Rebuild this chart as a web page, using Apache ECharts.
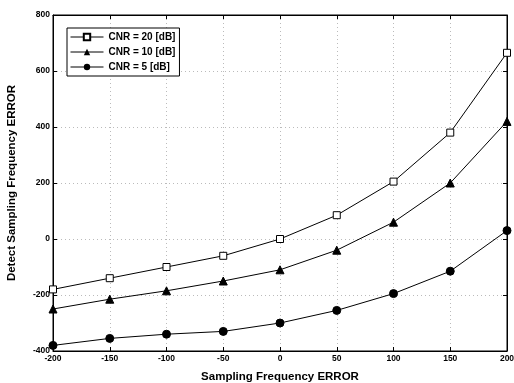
<!DOCTYPE html>
<html><head><meta charset="utf-8">
<script src="https://cdn.jsdelivr.net/npm/echarts@6/dist/echarts.min.js"></script>
<style>html,body{margin:0;padding:0;background:#fff}#c{width:514px;height:383px}</style>
</head><body><div id="c"></div>
<script>
const xCategories = [-200, -150, -100, -50, 0, 50, 100, 150, 200];
const cnr20 = [-180, -140, -100, -60, 0, 85, 205, 380, 665];
const cnr10 = [-250, -215, -185, -150, -110, -40, 60, 200, 420];
const cnr5 = [-380, -355, -340, -330, -300, -255, -195, -115, 30];
const seriesNames = ['CNR = 20 [dB]', 'CNR = 10 [dB]', 'CNR = 5 [dB]'];

const font = 'Liberation Sans, Arial, sans-serif';
const pair = (arr) => xCategories.map((x, i) => [x, arr[i]]);
const chart = echarts.init(document.getElementById('c'), null, {renderer: 'canvas'});
const lineOpt = {show: true, onZero: false, lineStyle: {color: '#000', width: 1}};
const tickOpt = {show: true, inside: true, length: 4, lineStyle: {color: '#000'}};
const labelOpt = {color: '#000', fontFamily: font, fontSize: 8.5, fontWeight: 'bold'};
const splitOpt = {show: true, lineStyle: {color: '#bbb', type: [1, 3], width: 1}};
const titleStyle = {fontFamily: font, fontSize: 11.5, fontWeight: 'bold', color: '#000'};
chart.setOption({
  animation: false,
  backgroundColor: '#fff',
  grid: {left: 53, right: 7, top: 15, bottom: 32, show: true, borderColor: '#000', borderWidth: 1,
         containLabel: false, outerBoundsMode: 'none'},
  legend: {
    orient: 'vertical', left: 67, top: 28,
    backgroundColor: '#fff', borderColor: '#000', borderWidth: 1,
    padding: [4, 4, 4, 3], itemGap: 5, itemWidth: 33, itemHeight: 8,
    lineStyle: {width: 1},
    textStyle: {fontFamily: font, fontSize: 10, fontWeight: 'bold', color: '#000'},
    data: seriesNames
  },
  xAxis: [{
    type: 'value', min: -200, max: 200, interval: 50,
    axisLine: lineOpt, axisTick: tickOpt, splitLine: splitOpt,
    name: 'Sampling Frequency ERROR', nameLocation: 'middle', nameGap: 20,
    nameTextStyle: titleStyle,
    axisLabel: {...labelOpt, margin: 3}
  }, {
    type: 'value', min: -200, max: 200, interval: 50, position: 'top',
    axisLine: lineOpt, axisTick: tickOpt,
    axisLabel: {show: false}, splitLine: {show: false}
  }],
  yAxis: [{
    type: 'value', min: -400, max: 800, interval: 200,
    axisLine: lineOpt, axisTick: tickOpt, splitLine: splitOpt,
    name: 'Detect Sampling Frequency ERROR', nameLocation: 'middle', nameGap: 35,
    nameTextStyle: titleStyle,
    axisLabel: {...labelOpt, margin: 3}
  }, {
    type: 'value', min: -400, max: 800, interval: 200, position: 'right',
    axisLine: lineOpt, axisTick: tickOpt,
    axisLabel: {show: false}, splitLine: {show: false}
  }],
  series: [
    {name: seriesNames[0], type: 'line', data: pair(cnr20), symbol: 'rect', symbolSize: 7,
     lineStyle: {color: '#000', width: 1}, itemStyle: {color: '#fff', borderColor: '#000', borderWidth: 1}},
    {name: seriesNames[1], type: 'line', data: pair(cnr10), symbol: 'triangle', symbolSize: 8,
     lineStyle: {color: '#000', width: 1}, itemStyle: {color: '#000', borderColor: '#000'}},
    {name: seriesNames[2], type: 'line', data: pair(cnr5), symbol: 'circle', symbolSize: 8,
     lineStyle: {color: '#000', width: 1}, itemStyle: {color: '#000', borderColor: '#000'}}
  ]
});
</script></body></html>
